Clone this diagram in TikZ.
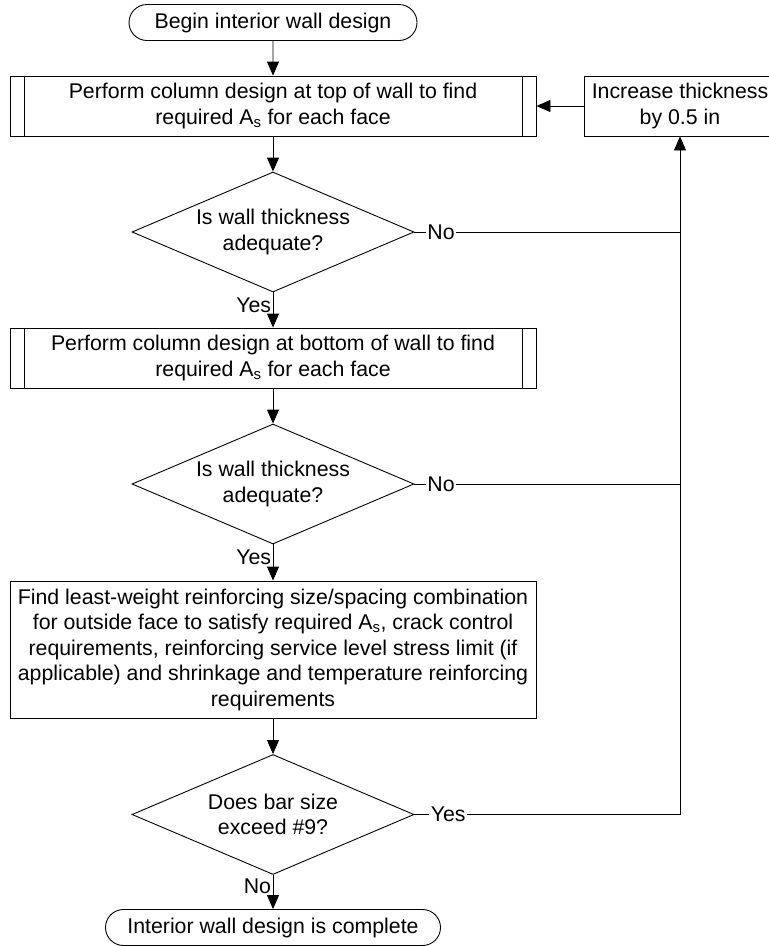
\documentclass[tikz,border=0pt]{standalone}
\usepackage{fontspec}
\setmainfont{Liberation Sans}
\usetikzlibrary{shapes.misc,shapes.geometric,arrows.meta}

\tikzset{
  base/.style={draw=black, line width=0.9pt, align=center, inner sep=0pt,
    font=\fontsize{21.3pt}{25.5pt}\selectfont},
  terminal/.style={base, rounded rectangle, minimum height=36pt},
  process/.style={base, rectangle, minimum height=60pt},
  subproc/.style={process, minimum width=526pt,
    append after command={
      ([xshift=14.5pt]\tikzlastnode.north west) edge[line width=0.9pt] ([xshift=14.5pt]\tikzlastnode.south west)
      ([xshift=-14.5pt]\tikzlastnode.north east) edge[line width=0.9pt] ([xshift=-14.5pt]\tikzlastnode.south east)
    }},
  decision/.style={base, diamond, shape aspect=2.35, minimum width=282pt, minimum height=120pt},
  flow/.style={line width=0.9pt, -{Triangle[length=14pt,width=12pt]}},
  link/.style={line width=0.9pt},
  lbl/.style={font=\fontsize{21.3pt}{25.5pt}\selectfont, inner sep=1.5pt},
  onlbl/.style={lbl, fill=white}
}

\begin{document}
\begin{tikzpicture}[x=1pt, y=-1pt]
  \useasboundingbox (0,0) rectangle (769,946);
  \clip (0,0) rectangle (769,946);

  % main column
  \node[terminal, minimum width=288pt] (start) at (273,22.5) {Begin interior wall design};
  \node[subproc] (top) at (273,106)
    {Perform column design at top of wall to find\\required A\textsubscript{s} for each face};
  \node[decision] (d1) at (273,232) {Is wall thickness\\adequate?};
  \node[subproc] (bot) at (273,358)
    {Perform column design at bottom of wall to find\\required A\textsubscript{s} for each face};
  \node[decision] (d2) at (273,484) {Is wall thickness\\adequate?};
  \node[process, minimum width=526pt, minimum height=137pt] (find) at (273,649.5)
    {Find least-weight reinforcing size/spacing combination\\
     for outside face to satisfy required A\textsubscript{s}, crack control\\
     requirements, reinforcing service level stress limit (if\\
     applicable) and shrinkage and temperature reinforcing\\
     requirements};
  \node[decision] (d3) at (273,814.5) {Does bar size\\exceed \#9?};
  \node[terminal, minimum width=335pt] (done) at (273,927.5) {Interior wall design is complete};

  % side loop
  \node[process, minimum width=192pt] (inc) at (680,106) {Increase thickness\\by 0.5 in};
  \coordinate (j1) at (inc.south |- d1.east);
  \coordinate (j2) at (inc.south |- d2.east);
  \coordinate (j3) at (inc.south |- d3.east);

  % connectors
  \draw[flow] (start) -- (top);
  \draw[flow] (top) -- (d1);
  \draw[flow] (d1) -- node[lbl, pos=0.36, left] {Yes} (bot);
  \draw[flow] (bot) -- (d2);
  \draw[flow] (d2) -- node[lbl, pos=0.36, left] {Yes} (find);
  \draw[flow] (find) -- (d3);
  \draw[flow] (d3) -- node[lbl, pos=0.33, left] {No} (done);

  \draw[link] (d1.east) -- node[onlbl, pos=0.1] {No} (j1);
  \draw[link] (d2.east) -- node[onlbl, pos=0.1] {No} (j2);
  \draw[link] (d3.east) -- node[onlbl, pos=0.127] {Yes} (j3);
  \draw[flow] (j3) -- (inc.south);
  \draw[flow] (inc.west) -- (top.east);
\end{tikzpicture}
\end{document}
